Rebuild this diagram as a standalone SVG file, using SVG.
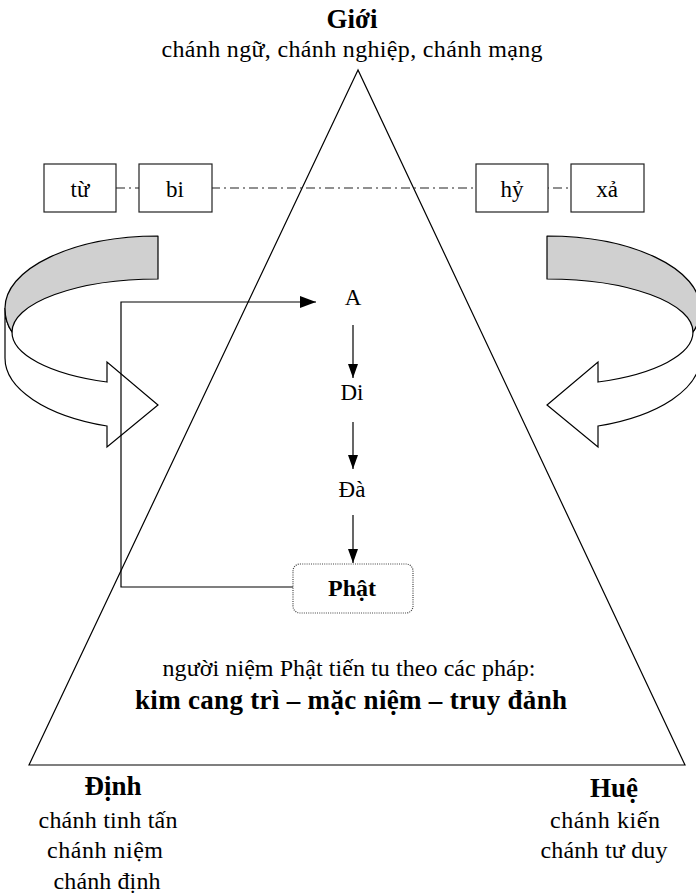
<svg xmlns="http://www.w3.org/2000/svg" width="696" height="894" viewBox="0 0 696 894">
<defs>
<style>
text{font-family:"Liberation Serif","Times New Roman",serif;fill:#000;text-anchor:middle}
.n{font-size:24px}
.s{font-size:23px}
.b{font-size:27px;font-weight:bold}
.box{fill:#fff;stroke:#222;stroke-width:1.2}
.ln{fill:none;stroke:#000;stroke-width:1.2}
.gray{fill:#d0d0d0;stroke:#000;stroke-width:1.2;stroke-linejoin:round}
.white{fill:#fff;stroke:#000;stroke-width:1.2;stroke-linejoin:miter}
</style>
<marker id="ah" markerUnits="userSpaceOnUse" markerWidth="16" markerHeight="12" refX="16" refY="6" orient="auto">
<path d="M0,0 L16,6 L0,12 Z" fill="#000"/>
</marker>
<marker id="ad" markerUnits="userSpaceOnUse" markerWidth="14" markerHeight="10" refX="14" refY="5" orient="auto">
<path d="M0,0 L14,5 L0,10 Z" fill="#000"/>
</marker>
<g id="curvedArrow">
<path class="white" d="M5,308 L5,358 A153,72 0 0 0 107,426 L107,447 L158,405 L107,362 L107,382 A146,53 0 0 1 12,332 Q5,322 5,308 Z"/>
<path class="gray" d="M158,236 A153,72 0 0 0 5,308 Q5,322 12,332 A146,53 0 0 1 158,279 Z"/>
</g>
</defs>

<g id="triangle">
<polygon points="358,70 29,765 685,765" fill="none" stroke="#000" stroke-width="1.2"/>
</g>

<g id="arrow-left">
<use href="#curvedArrow"/>
</g>
<g id="arrow-right">
<use href="#curvedArrow" transform="matrix(-1,0,0,1,705,0)"/>
</g>

<g id="connectors">
<line x1="116" y1="188" x2="571" y2="188" stroke="#222" stroke-width="1.2" stroke-dasharray="9 4 2 4"/>
<polyline class="ln" points="293,587 121,587 121,302 316,302" marker-end="url(#ah)"/>
<line class="ln" x1="353" y1="325" x2="353" y2="378" marker-end="url(#ad)"/>
<line class="ln" x1="353" y1="422" x2="353" y2="469" marker-end="url(#ad)"/>
<line class="ln" x1="353" y1="515" x2="353" y2="563" marker-end="url(#ad)"/>
</g>

<g id="gioi">
<text class="b" x="352" y="28">Giới</text>
<text class="n" x="352" y="57" textLength="381" lengthAdjust="spacing">chánh ngữ, chánh nghiệp, chánh mạng</text>
</g>

<g id="tu"><rect class="box" x="44" y="164" width="72" height="48"/><text class="s" x="80" y="197">từ</text></g>
<g id="bi"><rect class="box" x="139" y="164" width="73" height="48"/><text class="s" x="175" y="197">bi</text></g>
<g id="hy"><rect class="box" x="476" y="164" width="72" height="48"/><text class="s" x="512" y="197">hỷ</text></g>
<g id="xa"><rect class="box" x="571" y="164" width="73" height="48"/><text class="s" x="607" y="197">xả</text></g>

<g id="A"><text class="s" x="353" y="305">A</text></g>
<g id="Di"><text class="s" x="352" y="400">Di</text></g>
<g id="Da"><text class="s" x="352" y="497">Đà</text></g>
<g id="Phat">
<rect x="293" y="564" width="120" height="49" rx="7" fill="#fff" stroke="#444" stroke-width="1.2" stroke-dasharray="1 1.2"/>
<text x="352" y="596" style="font-size:24px;font-weight:bold">Phật</text>
</g>

<g id="phap">
<text class="n" x="349" y="676" textLength="373" lengthAdjust="spacing">người niệm Phật tiến tu theo các pháp:</text>
<text class="b" x="351" y="709" textLength="432" lengthAdjust="spacing">kim cang trì – mặc niệm – truy đảnh</text>
</g>

<g id="dinh">
<text class="b" x="113" y="795">Định</text>
<text class="n" x="108" y="828" textLength="139" lengthAdjust="spacing">chánh tinh tấn</text>
<text class="n" x="105" y="858" textLength="116" lengthAdjust="spacing">chánh niệm</text>
<text class="n" x="107" y="889" textLength="107" lengthAdjust="spacing">chánh định</text>
</g>

<g id="hue">
<text class="b" x="614" y="797">Huệ</text>
<text class="n" x="605" y="828" textLength="110" lengthAdjust="spacing">chánh kiến</text>
<text class="n" x="604" y="858" textLength="127" lengthAdjust="spacing">chánh tư duy</text>
</g>
</svg>
